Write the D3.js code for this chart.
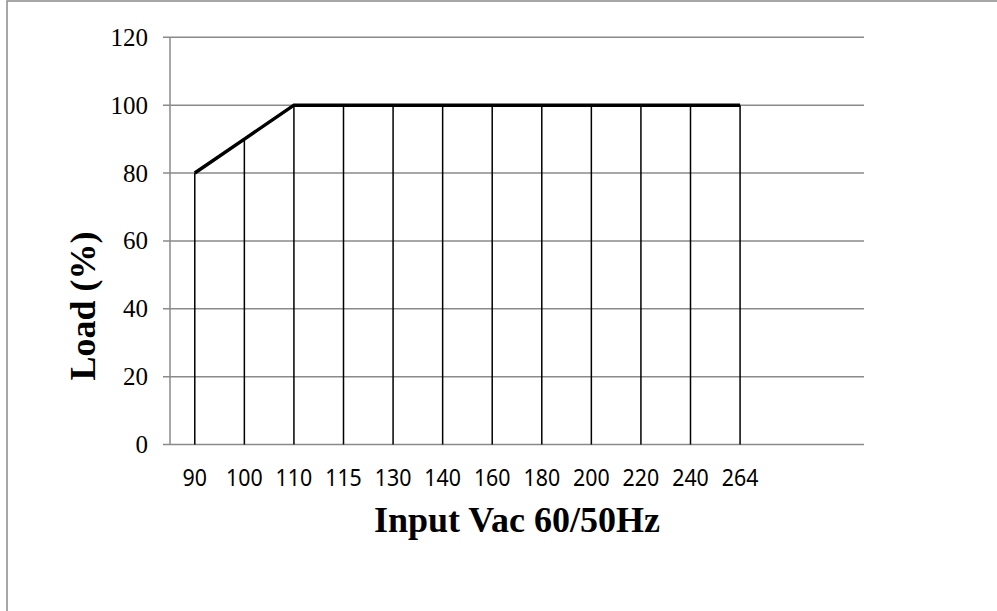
<!DOCTYPE html>
<html>
<head>
<meta charset="utf-8">
<script src="https://cdn.jsdelivr.net/npm/d3@7"></script>
<style>
  body { margin: 0; background: #fff; }
  svg { display: block; }
</style>
</head>
<body>
<svg width="997" height="611"></svg>
<script>
// Derating data
const categories = ['90', '100', '110', '115', '130', '140', '160', '180', '200', '220', '240', '264'];
const loadValues = [80, 90, 100, 100, 100, 100, 100, 100, 100, 100, 100, 100];
const yTicks = [0, 20, 40, 60, 80, 100, 120];

const svg = d3.select('svg');

// outer frame (only top/left edges show)
svg.append('rect')
  .attr('x', 7).attr('y', 1)
  .attr('width', 1000).attr('height', 700)
  .attr('fill', 'none')
  .attr('stroke', '#8a8a8a')
  .attr('stroke-width', 1.5);

const plotL = 170, plotR = 864, plotT = 37.3, plotB = 444.5;

// 14 slots on the axis, the last two are empty
const x = d3.scaleLinear().domain([0, 14]).range([plotL, plotR]);
const y = d3.scaleLinear().domain([0, 120]).range([plotB, plotT]);

// horizontal gridlines
svg.append('g')
  .selectAll('line')
  .data(yTicks)
  .join('line')
  .attr('x1', plotL - 7)
  .attr('x2', plotR)
  .attr('y1', d => y(d))
  .attr('y2', d => y(d))
  .attr('stroke', '#8a8a8a')
  .attr('stroke-width', 1.5);

// y axis line
svg.append('line')
  .attr('x1', plotL).attr('x2', plotL)
  .attr('y1', plotT).attr('y2', plotB)
  .attr('stroke', '#8a8a8a')
  .attr('stroke-width', 1.5);

// y tick labels
svg.append('g')
  .selectAll('text')
  .data(yTicks)
  .join('text')
  .attr('x', 148)
  .attr('y', d => y(d))
  .attr('dy', '0.34em')
  .attr('text-anchor', 'end')
  .attr('font-family', '"Liberation Serif", "Times New Roman", serif')
  .attr('font-size', 25)
  .attr('fill', '#000')
  .text(d => d);

// x tick labels (slightly condensed sans)
svg.append('g')
  .selectAll('text')
  .data(categories)
  .join('text')
  .attr('transform', (d, i) => `translate(${x(i + 0.5)},486) scale(0.89,1)`)
  .attr('text-anchor', 'middle')
  .attr('font-family', '"Noto Sans", "Open Sans", sans-serif')
  .attr('font-size', 24)
  .attr('fill', '#000')
  .text(d => d);

// drop lines from each point to the axis
svg.append('g')
  .selectAll('line')
  .data(loadValues)
  .join('line')
  .attr('x1', (d, i) => x(i + 0.5))
  .attr('x2', (d, i) => x(i + 0.5))
  .attr('y1', d => y(d))
  .attr('y2', plotB)
  .attr('stroke', '#000')
  .attr('stroke-width', 1.5);

// load curve
const line = d3.line()
  .x((d, i) => x(i + 0.5))
  .y(d => y(d));

svg.append('path')
  .datum(loadValues)
  .attr('d', line)
  .attr('fill', 'none')
  .attr('stroke', '#000')
  .attr('stroke-width', 3.5);

// axis titles
svg.append('text')
  .attr('x', 517)
  .attr('y', 532)
  .attr('text-anchor', 'middle')
  .attr('font-family', '"Liberation Serif", "Times New Roman", serif')
  .attr('font-weight', 'bold')
  .attr('font-size', 36)
  .text('Input Vac 60/50Hz');

svg.append('text')
  .attr('transform', 'translate(95,306) rotate(-90)')
  .attr('text-anchor', 'middle')
  .attr('font-family', '"Liberation Serif", "Times New Roman", serif')
  .attr('font-weight', 'bold')
  .attr('font-size', 36)
  .text('Load (%)');
</script>
</body>
</html>
